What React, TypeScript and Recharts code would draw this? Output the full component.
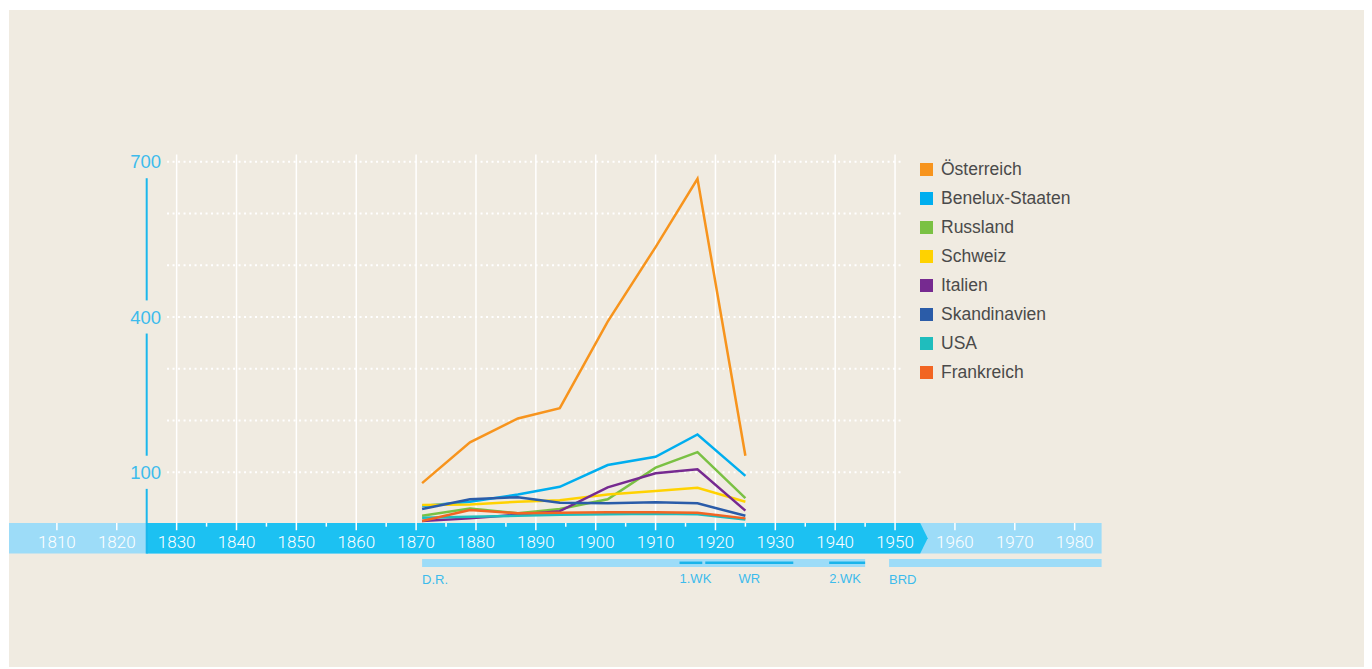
import React from "react";
import {
  LineChart,
  Line,
  XAxis,
  YAxis,
  ReferenceLine,
  ReferenceArea,
  Legend,
} from "recharts";

// Messpunkte (Jahre) und Werte je Herkunftsland
const years = [1871, 1879, 1887, 1894, 1902, 1910, 1917, 1925];
const oesterreich = [79, 158, 204, 224, 391, 535, 667, 132];
const benelux = [35, 43, 57, 72, 114, 130, 173, 93];
const russland = [16, 30, 21, 29, 48, 109, 139, 50];
const schweiz = [37, 38, 43, 46, 57, 64, 70, 43];
const italien = [6, 11, 18, 25, 71, 98, 106, 26];
const skandinavien = [29, 48, 52, 41, 40, 42, 40, 16];
const usa = [12, 14, 16, 18, 19, 20, 19, 9];
const frankreich = [6, 27, 21, 22, 23, 23, 22, 11];

const seriesNames = [
  "Österreich",
  "Benelux-Staaten",
  "Russland",
  "Schweiz",
  "Italien",
  "Skandinavien",
  "USA",
  "Frankreich",
];
const seriesValues = [oesterreich, benelux, russland, schweiz, italien, skandinavien, usa, frankreich];
const seriesColors = ["#f7941d", "#00aeef", "#7ac143", "#ffd200", "#762a90", "#2b5ca8", "#1fbdbd", "#f26522"];

// Achsen
const yearTicks = [1810, 1820, 1830, 1840, 1850, 1860, 1870, 1880, 1890, 1900, 1910, 1920, 1930, 1940, 1950, 1960, 1970, 1980];
const gridYears = [1830, 1840, 1850, 1860, 1870, 1880, 1890, 1900, 1910, 1920, 1930, 1940, 1950];
const halfTicks = [1835, 1845, 1855, 1865, 1875, 1885, 1895, 1905, 1915, 1925, 1935, 1945];
const bandTicks = [1810, 1820, 1960, 1970, 1980];
const yGrid = [100, 200, 300, 400, 500, 600, 700];
const yLabels = [700, 400, 100];

// Zeitleiste
const timeStart = 1802;
const timeEnd = 1984.5;
const highlightStart = 1825;
const highlightEnd = 1954.2;
const eras = [
  { name: "D.R.", from: 1871, to: 1945 },
  { name: "BRD", from: 1949, to: 1984.5 },
];
const events = [
  { name: "1.WK", from: 1914, to: 1917.8 },
  { name: "WR", from: 1918.3, to: 1933 },
  { name: "2.WK", from: 1939, to: 1945 },
];

const data = years.map((year, i) => {
  const row: Record<string, number> = { year };
  seriesNames.forEach((name, s) => {
    row[name] = seriesValues[s][i];
  });
  return row;
});

const BLUE = "#1cc1f2";
const LIGHT_BLUE = "#9ddcf8";
const LABEL_BLUE = "#3dbbec";
const BG = "#f0ebe1";
const SANS = "'Liberation Sans', Arial, sans-serif";

const ArrowBand = (props: any) => {
  const { x, y, width, height, fill } = props;
  const tip = 7.5;
  const pts = `${x},${y} ${x + width},${y} ${x + width + tip},${y + height / 2} ${x + width},${y + height} ${x},${y + height}`;
  return <polygon points={pts} fill={fill} />;
};

const YearTick = (props: any) => {
  const { x, y, payload } = props;
  return (
    <text x={x} y={y} dy={-38} textAnchor="middle" fill="#ffffff" fontSize={17} fontFamily="Roboto, sans-serif" fontWeight={300}>
      {payload.value}
    </text>
  );
};

const PeriodLabel = (props: any) => {
  const { viewBox, value, center, dy } = props;
  const x = center ? viewBox.x + viewBox.width / 2 : viewBox.x;
  return (
    <text x={x} y={viewBox.y + viewBox.height + dy} textAnchor={center ? "middle" : "start"} fill={LABEL_BLUE} fontSize={13} fontFamily={SANS}>
      {value}
    </text>
  );
};

const LegendList = () => (
  <div style={{ fontFamily: SANS }}>
    {seriesNames.map((name, i) => (
      <div key={name} style={{ display: "flex", alignItems: "center", height: 28.9 }}>
        <span style={{ width: 13, height: 13, background: seriesColors[i], marginRight: 8, flexShrink: 0 }} />
        <span style={{ fontSize: 17.5, color: "#4a4a4a", whiteSpace: "nowrap" }}>{name}</span>
      </div>
    ))}
  </div>
);

export default function App() {
  const axisSegments = yLabels.map((v, i) => [v - 32, i < yLabels.length - 1 ? yLabels[i + 1] + 32 : -57]);
  return (
    <div style={{ position: "relative", left: 1, top: 2, width: 1363, height: 659, background: BG }}>
      <LineChart
        width={1363}
        height={659}
        data={data}
        margin={{ top: 144.4, right: 267.4, left: 0, bottom: 62.8 }}
      >
        <XAxis
          type="number"
          dataKey="year"
          domain={[1802, 1985]}
          ticks={yearTicks}
          axisLine={false}
          tickLine={false}
          tickSize={0}
          tickMargin={0}
          height={20}
          tick={<YearTick />}
          allowDataOverflow
        />
        <YAxis hide type="number" domain={[-120, 714]} allowDataOverflow />

        {/* Zeitleiste */}
        <ReferenceArea x1={timeStart} x2={timeEnd} y1={-57} y2={2} fill={LIGHT_BLUE} fillOpacity={1} stroke="none" />
        <ReferenceArea x1={highlightStart} x2={highlightEnd} y1={-57} y2={2} fill={BLUE} fillOpacity={1} stroke="none" shape={<ArrowBand />} />
        {bandTicks.map((t) => (
          <ReferenceLine key={`bt${t}`} segment={[{ x: t, y: 2 }, { x: t, y: -12 }]} stroke="#ffffff" strokeWidth={1.5} />
        ))}
        {halfTicks.map((t) => (
          <ReferenceLine key={`ht${t}`} segment={[{ x: t, y: 2 }, { x: t, y: -5 }]} stroke="#ffffff" strokeWidth={1.5} />
        ))}
        {gridYears.map((t) => (
          <ReferenceLine key={`gv${t}`} segment={[{ x: t, y: 714 }, { x: t, y: -12 }]} stroke="#ffffff" strokeWidth={1.5} />
        ))}
        {yGrid.map((v) => (
          <ReferenceLine
            key={`gh${v}`}
            segment={[{ x: 1828.4, y: v }, { x: 1951.3, y: v }]}
            stroke="#ffffff"
            strokeWidth={2}
            strokeDasharray="2 3.5"
            label={yLabels.includes(v) ? { value: String(v), position: "left", offset: 6, fill: LABEL_BLUE, fontSize: 18.5, fontFamily: SANS } : undefined}
          />
        ))}
        {axisSegments.map(([a, b], i) => (
          <ReferenceLine key={`ax${i}`} segment={[{ x: highlightStart, y: a }, { x: highlightStart, y: b }]} stroke="#1ab7ec" strokeWidth={2} />
        ))}

        {/* Epochen */}
        {eras.map((e) => (
          <ReferenceArea
            key={e.name}
            x1={e.from}
            x2={e.to}
            y1={-83}
            y2={-67.6}
            fill={LIGHT_BLUE}
            fillOpacity={1}
            stroke="none"
            label={<PeriodLabel value={e.name} dy={16.5} />}
          />
        ))}
        {events.map((e) => (
          <ReferenceLine
            key={e.name}
            segment={[{ x: e.from, y: -74.8 }, { x: e.to, y: -74.8 }]}
            stroke="#1ab4ea"
            strokeWidth={2.5}
            label={<PeriodLabel value={e.name} center={e.name === "WR"} dy={20.5} />}
          />
        ))}

        {seriesNames.map((name, i) => (
          <Line
            key={name}
            type="linear"
            dataKey={name}
            name={name}
            stroke={seriesColors[i]}
            strokeWidth={2.5}
            dot={false}
            activeDot={false}
            isAnimationActive={false}
          />
        ))}

        <Legend
          layout="vertical"
          align="center"
          verticalAlign="middle"
          wrapperStyle={{ left: 911, top: 145.5, width: 200 }}
          content={() => <LegendList />}
        />
      </LineChart>
    </div>
  );
}
